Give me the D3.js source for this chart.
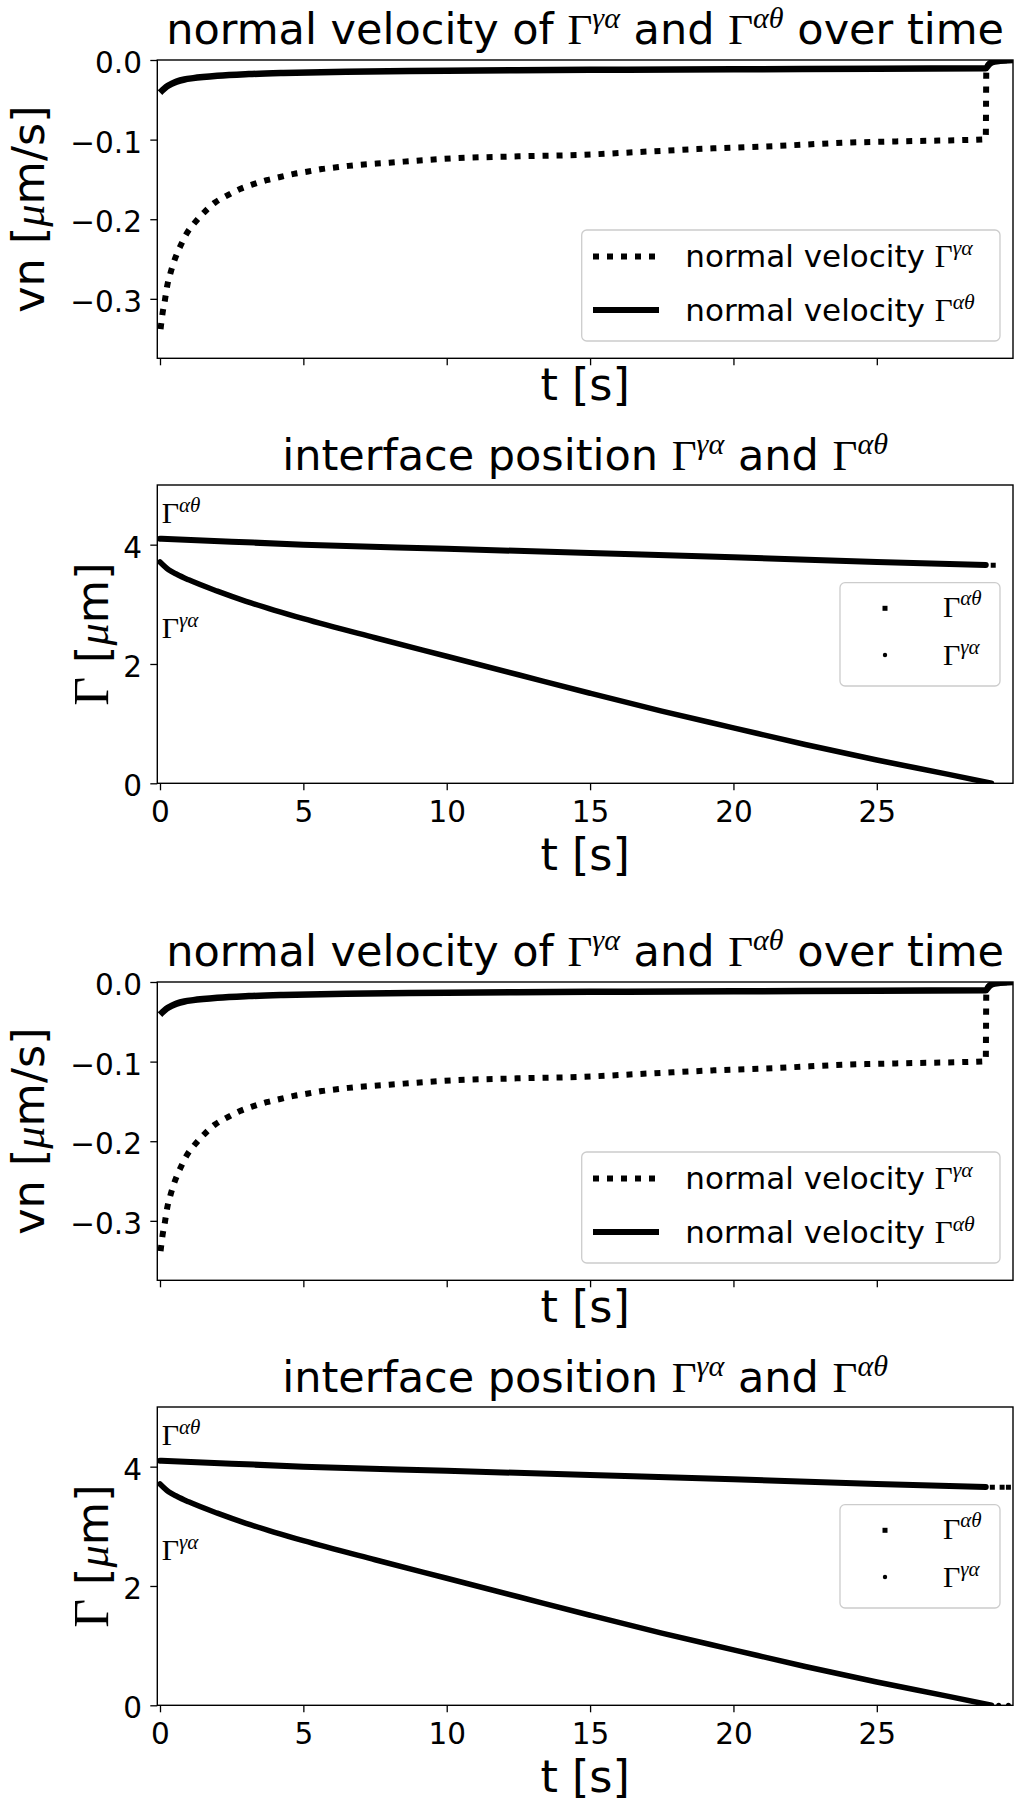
<!DOCTYPE html>
<html>
<head>
<meta charset="utf-8">
<script src="https://cdn.jsdelivr.net/npm/d3@7"></script>
<style>
body { margin: 0; background: #fff; }
svg { display: block; }
text { white-space: pre; }
</style>
</head>
<body>
<div id="chart"></div>
<script>

// ---- data ----

// time axis (shared by every panel)
var tTicks = [0, 5, 10, 15, 20, 25];
var tDomain = [-0.094, 29.75];

// normal velocity of Gamma^{gamma alpha} (dotted)
var vnGaT = [0.02, 0.09, 0.17, 0.25, 0.37, 0.52, 0.72, 0.93, 1.22, 1.55, 1.92, 2.35, 2.79, 3.26, 3.72,
             4.19, 4.67, 5.17, 5.64, 6.1, 6.57, 8.0, 10.25, 12.5, 14.8, 17.0, 19.3, 21.5, 23.8, 26.0,
             28.69, 28.80, 28.82, 28.9, 29.0, 29.3, 29.75];
var vnGaV = [-0.338, -0.318, -0.302, -0.284, -0.267, -0.25, -0.233, -0.218, -0.204, -0.191, -0.179, -0.170,
             -0.162, -0.156, -0.151, -0.147, -0.143, -0.140, -0.137, -0.135, -0.133, -0.129, -0.1235, -0.121,
             -0.119, -0.115, -0.111, -0.108, -0.104, -0.102, -0.0997, -0.0995, -0.0105, -0.006, -0.003, -0.001, 0];

// normal velocity of Gamma^{alpha theta} (solid)
var vnAtT = [0, 0.1, 0.23, 0.4, 0.58, 0.85, 1.16, 1.5, 2.0, 3.1, 4.3, 6.5, 10, 15, 20, 25, 28.8, 28.9, 29.0, 29.3, 29.75];
var vnAtV = [-0.041, -0.0375, -0.0335, -0.0300, -0.0272, -0.0245, -0.0228, -0.0214, -0.0198, -0.0177, -0.0163, -0.0148,
             -0.0135, -0.0124, -0.0116, -0.011, -0.0105, -0.006, -0.003, -0.001, 0];

var vnTicks = [0, -0.1, -0.2, -0.3];
var vnDomain = [-0.3747, 0];

// interface positions
var posAtT = [0, 2.5, 5, 10, 15, 20, 25, 28.8];
var posAtV = [4.10, 4.05, 4.00, 3.93, 3.86, 3.79, 3.71, 3.66];
var posGaT = [0, 0.3, 0.6, 1, 2, 3, 4, 5, 7.5, 10, 12.5, 15, 17.5, 20, 22.5, 25, 27.5, 29.0];
var posGaV = [3.71, 3.58, 3.50, 3.41, 3.22, 3.05, 2.90, 2.76, 2.44, 2.13, 1.82, 1.51, 1.21, 0.93, 0.65, 0.39, 0.15, 0.0];

// single points left after the runs end (upper figure, lower figure)
var tailAtT = [[29.06], [29.03, 29.37, 29.59]];
var tailAtV = 3.655;
var tailGaT = [[], [29.25, 29.59]];
var tailGaV = 0;

var posTicks = [0, 2, 4];
var posDomain = [0, 5];

// text labels placed inside the position panel
var annotT = [0, 0];
var annotV = [4.36, 2.43];
var annotSup = ["αθ", "γα"];

// ---- layout ----
var SANS = "DejaVu Sans", SERIF = "Liberation Serif";
var width = 1017, height = 1801;
var left = 157.3, right = 1013;
var figTops = [0, 922];
var panelH = 298.3;
var velTop = 60, posTop = 485;
var titleSize = 43, labelSize = 44.5, tickSize = 29.5, legendSize = 31, mathSize = 30;

var svg = d3.select("#chart").append("svg")
    .attr("width", width)
    .attr("height", height)
    .style("background", "#fff");

var x = d3.scaleLinear().domain(tDomain).range([left, right]);

var clipCount = 0;

// pieces: plain strings are sans text, {g: ".."} is Gamma with superscript, {it: ".."} italic serif
function mathText(sel, pieces, size) {
    var offset = 0;
    var up = size * 0.38;
    pieces.forEach(function(p) {
        if (typeof p === "string") {
            sel.append("tspan").attr("dy", -offset).text(p);
            offset = 0;
        } else if (p.it) {
            sel.append("tspan").attr("dy", -offset)
                .attr("font-family", SERIF).attr("font-style", "italic").text(p.it);
            offset = 0;
        } else {
            sel.append("tspan").attr("dy", -offset).attr("font-family", SERIF).text("Γ");
            sel.append("tspan").attr("dy", -up)
                .attr("font-family", SERIF).attr("font-style", "italic")
                .attr("font-size", size * 0.7).text(p.g);
            offset = -up;
        }
    });
    return sel;
}

function frame(g, y, top, yTicks, yFmt, xFmt) {
    var xAxis = g.append("g")
        .attr("transform", "translate(0," + (top + panelH) + ")")
        .call(d3.axisBottom(x).tickValues(tTicks).tickSize(7).tickPadding(11)
            .tickSizeOuter(0).tickFormat(xFmt));
    var yAxis = g.append("g")
        .attr("transform", "translate(" + left + ",0)")
        .call(d3.axisLeft(y).tickValues(yTicks).tickSize(7).tickPadding(8.3)
            .tickSizeOuter(0).tickFormat(yFmt));

    [xAxis, yAxis].forEach(function(a) {
        a.select(".domain").remove();
        a.selectAll(".tick line").attr("stroke", "#000").attr("stroke-width", 1.3);
        a.selectAll(".tick text")
            .attr("fill", "#000")
            .style("font-family", SANS)
            .style("font-size", tickSize + "px");
    });
    yAxis.selectAll(".tick text").attr("dy", "0.42em");

    g.append("rect")
        .attr("x", left).attr("y", top)
        .attr("width", right - left).attr("height", panelH)
        .attr("fill", "none").attr("stroke", "#000").attr("stroke-width", 1.4);

    var id = "clip" + (clipCount++);
    g.append("clipPath").attr("id", id)
        .append("rect")
        .attr("x", left).attr("y", top)
        .attr("width", right - left).attr("height", panelH);
    return g.append("g").attr("clip-path", "url(#" + id + ")");
}

function drawVelocity(g, off) {
    var top = off + velTop;
    var y = d3.scaleLinear().domain(vnDomain).range([top + panelH, top]);
    var plot = frame(g, y, top, vnTicks, d3.format(".1f"), "");

    var line = d3.line()
        .x(function(d) { return x(d[0]); })
        .y(function(d) { return y(d[1]); })
        .curve(d3.curveMonotoneX);

    plot.append("path")
        .datum(d3.zip(vnGaT, vnGaV))
        .attr("d", line)
        .attr("fill", "none").attr("stroke", "#000")
        .attr("stroke-width", 6).attr("stroke-dasharray", "6,8");

    plot.append("path")
        .datum(d3.zip(vnAtT, vnAtV))
        .attr("d", line)
        .attr("fill", "none").attr("stroke", "#000")
        .attr("stroke-width", 6.5);

    // title
    mathText(g.append("text")
        .attr("x", (left + right) / 2).attr("y", top - 16)
        .attr("text-anchor", "middle")
        .style("font-family", SANS).style("font-size", titleSize + "px"),
        ["normal velocity of ", {g: "γα"}, " and ", {g: "αθ"}, " over time"], titleSize);

    // axis labels
    g.append("text")
        .attr("x", (left + right) / 2).attr("y", top + panelH + 42)
        .attr("text-anchor", "middle")
        .style("font-family", SANS).style("font-size", labelSize + "px")
        .text("t [s]");

    mathText(g.append("text")
        .attr("transform", "translate(44," + (top + panelH / 2) + ") rotate(-90)")
        .attr("text-anchor", "middle")
        .style("font-family", SANS).style("font-size", labelSize + "px"),
        ["vn [", {it: "μ"}, "m/s]"], labelSize);

    // legend
    var lg = g.append("g");
    lg.append("rect")
        .attr("x", right - 431.3).attr("y", top + 170)
        .attr("width", 418.3).attr("height", 111)
        .attr("rx", 5)
        .attr("fill", "#fff").attr("fill-opacity", 0.8)
        .attr("stroke", "#cccccc").attr("stroke-width", 1.3);
    var rows = [
        {dash: "6,8", sup: "γα"},
        {dash: null, sup: "αθ"}
    ];
    rows.forEach(function(r, i) {
        var ry = top + 196.5 + i * 53.5;
        lg.append("line")
            .attr("x1", right - 420).attr("x2", right - 354)
            .attr("y1", ry).attr("y2", ry)
            .attr("stroke", "#000").attr("stroke-width", 6)
            .attr("stroke-dasharray", r.dash);
        mathText(lg.append("text")
            .attr("x", right - 327.7).attr("y", ry + 10.7)
            .style("font-family", SANS).style("font-size", legendSize + "px"),
            ["normal velocity ", {g: r.sup}], legendSize);
    });
}

function drawPosition(g, off, k) {
    var top = off + posTop;
    var y = d3.scaleLinear().domain(posDomain).range([top + panelH, top]);
    var plot = frame(g, y, top, posTicks, d3.format("d"), d3.format("d"));

    var line = d3.line()
        .x(function(d) { return x(d[0]); })
        .y(function(d) { return y(d[1]); })
        .curve(d3.curveMonotoneX);

    plot.append("path")
        .datum(d3.zip(posAtT, posAtV))
        .attr("d", line)
        .attr("fill", "none").attr("stroke", "#000")
        .attr("stroke-width", 6).attr("stroke-linecap", "round");

    plot.append("path")
        .datum(d3.zip(posGaT, posGaV))
        .attr("d", line)
        .attr("fill", "none").attr("stroke", "#000")
        .attr("stroke-width", 5.5).attr("stroke-linecap", "round");

    plot.selectAll("rect.tail")
        .data(tailAtT[k]).enter().append("rect")
        .attr("class", "tail")
        .attr("x", function(d) { return x(d) - 2.5; })
        .attr("y", y(tailAtV) - 2.5)
        .attr("width", 5).attr("height", 5)
        .attr("fill", "#000");

    plot.selectAll("circle.tail")
        .data(tailGaT[k]).enter().append("circle")
        .attr("class", "tail")
        .attr("cx", function(d) { return x(d); })
        .attr("cy", y(tailGaV))
        .attr("r", 2.5)
        .attr("fill", "#000");

    // labels inside the plot
    annotT.forEach(function(t, i) {
        mathText(g.append("text")
            .attr("x", x(t) + 1.7).attr("y", y(annotV[i]))
            .style("font-family", SERIF).style("font-size", mathSize + "px"),
            [{g: annotSup[i]}], mathSize);
    });

    // title
    mathText(g.append("text")
        .attr("x", (left + right) / 2).attr("y", top - 15)
        .attr("text-anchor", "middle")
        .style("font-family", SANS).style("font-size", titleSize + "px"),
        ["interface position ", {g: "γα"}, " and ", {g: "αθ"}], titleSize);

    g.append("text")
        .attr("x", (left + right) / 2).attr("y", top + panelH + 87)
        .attr("text-anchor", "middle")
        .style("font-family", SANS).style("font-size", labelSize + "px")
        .text("t [s]");

    var yl = g.append("text")
        .attr("transform", "translate(108," + (top + panelH / 2) + ") rotate(-90)")
        .attr("text-anchor", "middle")
        .style("font-family", SANS).style("font-size", labelSize + "px");
    yl.append("tspan").attr("font-family", SERIF).attr("font-size", labelSize * 1.12).text("Γ");
    mathText(yl, [" [", {it: "μ"}, "m]"], labelSize);

    // legend
    var lg = g.append("g");
    lg.append("rect")
        .attr("x", right - 173).attr("y", top + 97.7)
        .attr("width", 160).attr("height", 103.3)
        .attr("rx", 5)
        .attr("fill", "#fff").attr("fill-opacity", 0.8)
        .attr("stroke", "#cccccc").attr("stroke-width", 1.3);
    lg.append("rect")
        .attr("x", right - 130.5).attr("y", top + 120.8)
        .attr("width", 5).attr("height", 5)
        .attr("fill", "#000");
    lg.append("circle")
        .attr("cx", right - 128).attr("cy", top + 170)
        .attr("r", 2.2)
        .attr("fill", "#000");
    ["αθ", "γα"].forEach(function(s, i) {
        mathText(lg.append("text")
            .attr("x", right - 70).attr("y", top + 131.7 + i * 48.3)
            .style("font-family", SERIF).style("font-size", mathSize + "px"),
            [{g: s}], mathSize);
    });
}

figTops.forEach(function(off, k) {
    var g = svg.append("g");
    drawVelocity(g, off);
    drawPosition(g, off, k);
});

</script>
</body>
</html>
